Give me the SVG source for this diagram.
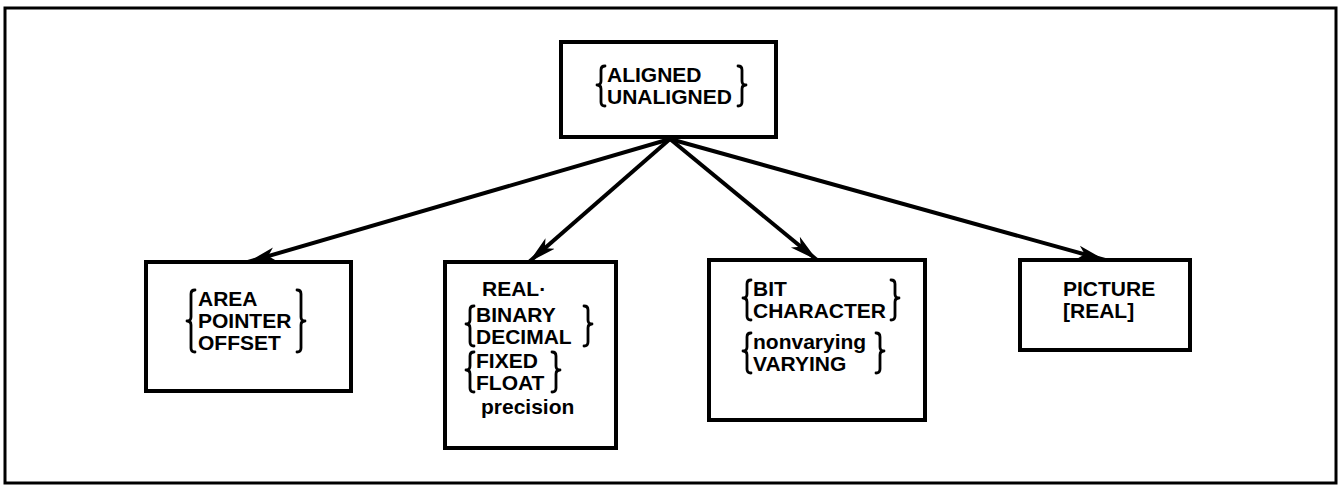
<svg xmlns="http://www.w3.org/2000/svg" width="1340" height="489" viewBox="0 0 1340 489">
<defs>
<style>
.box{fill:#fff;stroke:#000;stroke-width:4}
.t{font-family:"Liberation Sans",Arial,sans-serif;font-weight:bold;font-size:21px;fill:#000}
.br{fill:none;stroke:#000;stroke-width:2.8;stroke-linecap:round;stroke-linejoin:round}
.edge{stroke:#000;stroke-width:4;fill:none}
</style>
<marker id="ah" viewBox="-28 -8 30 16" refX="0" refY="0" markerUnits="userSpaceOnUse" markerWidth="30" markerHeight="16" orient="auto">
<path d="M0,0 L-28,-7 L-21,0 L-28,7 Z" fill="#000"/>
</marker>
</defs>
<rect x="0" y="0" width="1340" height="489" fill="#fff"/>
<rect x="5" y="8" width="1331" height="475" fill="none" stroke="#000" stroke-width="3"/>

<g id="connectors">
<line class="edge" x1="670" y1="139" x2="248" y2="262" marker-end="url(#ah)"/>
<line class="edge" x1="670" y1="139" x2="529" y2="262" marker-end="url(#ah)"/>
<line class="edge" x1="670" y1="139" x2="817" y2="260" marker-end="url(#ah)"/>
<line class="edge" x1="670" y1="139" x2="1105" y2="260" marker-end="url(#ah)"/>
</g>

<g id="aligned">
<rect class="box" x="561" y="42" width="215" height="95"/>
<path class="br" d="M605,66 Q601,66 601,70 L601,81 Q601,85 597,85 Q601,85 601,89 L601,102 Q601,106 605,106"/>
<text class="t" x="607" y="82">ALIGNED</text>
<text class="t" x="607" y="104">UNALIGNED</text>
<path class="br" d="M738,66 Q742,66 742,70 L742,81 Q742,85 746,85 Q742,85 742,89 L742,102 Q742,106 738,106"/>
</g>

<g id="area">
<rect class="box" x="146" y="262" width="205" height="129"/>
<path class="br" d="M195,290 Q191,290 191,294 L191,317 Q191,321 187,321 Q191,321 191,325 L191,348 Q191,352 195,352"/>
<text class="t" x="198" y="306">AREA</text>
<text class="t" x="198" y="328">POINTER</text>
<text class="t" x="198" y="350">OFFSET</text>
<path class="br" d="M297,290 Q301,290 301,294 L301,317 Q301,321 305,321 Q301,321 301,325 L301,348 Q301,352 297,352"/>
</g>

<g id="real">
<rect class="box" x="445" y="262" width="171" height="186"/>
<text class="t" x="482" y="296">REAL·</text>
<path class="br" d="M474,306 Q470,306 470,310 L470,320 Q470,324 466,324 Q470,324 470,328 L470,342 Q470,346 474,346"/>
<text class="t" x="476" y="322">BINARY</text>
<text class="t" x="476" y="344">DECIMAL</text>
<path class="br" d="M584,306 Q588,306 588,310 L588,320 Q588,324 592,324 Q588,324 588,328 L588,342 Q588,346 584,346"/>
<path class="br" d="M474,352 Q470,352 470,356 L470,366 Q470,370 466,370 Q470,370 470,374 L470,388 Q470,392 474,392"/>
<text class="t" x="476" y="368">FIXED</text>
<text class="t" x="476" y="390">FLOAT</text>
<path class="br" d="M552,352 Q556,352 556,356 L556,366 Q556,370 560,370 Q556,370 556,374 L556,388 Q556,392 552,392"/>
<text class="t" x="481" y="414">precision</text>
</g>

<g id="bit">
<rect class="box" x="709" y="260" width="216" height="160"/>
<path class="br" d="M751,280 Q747,280 747,284 L747,294 Q747,298 743,298 Q747,298 747,302 L747,316 Q747,320 751,320"/>
<text class="t" x="753" y="296">BIT</text>
<text class="t" x="753" y="318">CHARACTER</text>
<path class="br" d="M891,280 Q895,280 895,284 L895,294 Q895,298 899,298 Q895,298 895,302 L895,316 Q895,320 891,320"/>
<path class="br" d="M751,333 Q747,333 747,337 L747,347 Q747,351 743,351 Q747,351 747,355 L747,369 Q747,373 751,373"/>
<text class="t" x="753" y="349">nonvarying</text>
<text class="t" x="753" y="371">VARYING</text>
<path class="br" d="M876,333 Q880,333 880,337 L880,347 Q880,351 884,351 Q880,351 880,355 L880,369 Q880,373 876,373"/>
</g>

<g id="picture">
<rect class="box" x="1020" y="260" width="170" height="90"/>
<text class="t" x="1063" y="296">PICTURE</text>
<text class="t" x="1063" y="318">[REAL]</text>
</g>
</svg>
